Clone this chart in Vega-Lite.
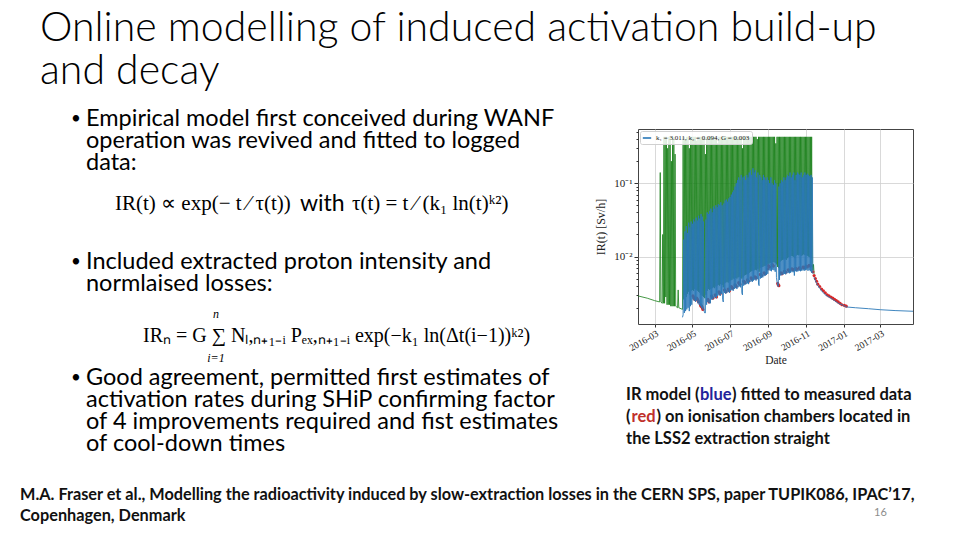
{
"$schema": "https://vega.github.io/schema/vega-lite/v6.json",
"background": "white",
"padding": {"left": 20, "top": 8, "right": 0, "bottom": 0},
"title": {"text": ["Online modelling of induced activation build-up", "and decay"], "anchor": "start", "dx": 20, "font": "Lato", "fontSize": 41, "fontWeight": 300, "lineHeight": 43, "color": "#000000", "offset": 14},
"spacing": 25,
"resolve": {"scale": {"color": "independent"}, "legend": {"color": "independent"}},
"config": {"view": {"stroke": null}},
"datasets": {
"left": [
{"row": 0, "k": "b", "t": ["Empirical model first conceived during WANF", "operation was revived and fitted to logged", "data:"]},
{"row": 15, "k": "f1a", "t": "IR(t) ∝ exp(− t ⁄ τ(t))"},
{"row": 15, "k": "f1w", "t": "with"},
{"row": 15, "k": "f1b", "t": "τ(t) = t ⁄ (k₁ ln(t)ᵏ²)"},
{"row": 26, "k": "b", "t": ["Included extracted proton intensity and", "normlaised losses:"]},
{"row": 39, "k": "f2", "t": "IRₙ = G ∑ Nₗ,ₙ₊₁₋ᵢ Pₑₓ,ₙ₊₁₋ᵢ exp(−k₁ ln(Δt(i−1))ᵏ²)"},
{"row": 35, "k": "f2n", "t": "n"},
{"row": 43, "k": "f2i", "t": "i=1"},
{"row": 47, "k": "b", "t": ["Good agreement, permitted first estimates of", "activation rates during SHiP confirming factor", "of 4 improvements required and fist estimates", "of cool-down times"]}
],
"cap": [
{"row": 0, "a": "IR model (", "c": "blue", "z": ") fitted to measured data"},
{"row": 1, "a": "(", "c": "red", "z": ") on ionisation chambers located in"},
{"row": 2, "a": "the LSS2 extraction straight"}
],
"foot": [
{"row": 0, "t": "M.A. Fraser et al., Modelling the radioactivity induced by slow-extraction losses in the CERN SPS, paper TUPIK086, IPAC’17,"},
{"row": 1, "t": "Copenhagen, Denmark", "pg": "16"}
],
"chart": [
{"d":"2016-02-03","g":0.0029,"b":0.00148},
{"d":"2016-02-18","g":0.0027},
{"d":"2016-03-01","g":0.0025,"b":0.00148},
{"d":"2016-03-09","g":0.0024},
{"d":"2016-03-10","g":0.14},
{"d":"2016-03-11","g":0.0024},
{"d":"2016-03-13","g":0.0023},
{"d":"2016-03-14","g":0.02},
{"d":"2016-03-15","g":0.0023},
{"d":"2016-03-16","g":0.43},
{"d":"2016-03-17","g":0.0023},
{"d":"2016-03-18","g":0.43},
{"d":"2016-03-19","g":0.0028},
{"d":"2016-03-20","g":0.43},
{"d":"2016-03-21","g":0.0022},
{"d":"2016-03-22","g":0.3},
{"d":"2016-03-23","g":0.0022},
{"d":"2016-03-24","g":0.43},
{"d":"2016-03-25","g":0.0022},
{"d":"2016-03-26","g":0.43},
{"d":"2016-03-27","g":0.0021},
{"d":"2016-03-28","g":0.2},
{"d":"2016-03-29","g":0.0021},
{"d":"2016-03-30","g":0.43},
{"d":"2016-03-31","g":0.0021},
{"d":"2016-04-01","g":0.43},
{"d":"2016-04-02","g":0.0021},
{"d":"2016-04-03","g":0.25},
{"d":"2016-04-04","g":0.0021},
{"d":"2016-04-07","g":0.002},
{"d":"2016-04-08","g":0.0035},
{"d":"2016-04-09","g":0.002},
{"d":"2016-04-15","g":0.0019,"b":0.00148},
{"d":"2016-04-16","g":0.43,"b":0.0016},
{"d":"2016-04-17","g":0.0026,"b":0.017},
{"d":"2016-04-18","g":0.43,"b":0.0017},
{"d":"2016-04-19","g":0.003,"b":0.022},
{"d":"2016-04-20","g":0.4,"b":0.0018},
{"d":"2016-04-21","g":0.0028,"b":0.026},
{"d":"2016-04-22","g":0.43,"b":0.0019},
{"d":"2016-04-23","g":0.0031,"b":0.021},
{"d":"2016-04-24","g":0.43,"b":0.002},
{"d":"2016-04-25","g":0.0033,"b":0.029},
{"d":"2016-04-26","g":0.3,"b":0.0018},
{"d":"2016-04-27","g":0.003,"b":0.025},
{"d":"2016-04-28","g":0.43,"b":0.0021},
{"d":"2016-04-29","g":0.0034,"b":0.03},
{"d":"2016-04-30","g":0.43,"b":0.0022},
{"d":"2016-05-01","g":0.0035,"b":0.028},
{"d":"2016-05-02","g":0.43,"b":0.0026,"r":0.0029},
{"d":"2016-05-03","g":0.0034,"b":0.032,"r":0.0028},
{"d":"2016-05-04","g":0.43,"b":0.0025,"r":0.0027},
{"d":"2016-05-05","g":0.0036,"b":0.03,"r":0.0026},
{"d":"2016-05-06","g":0.43,"b":0.0024},
{"d":"2016-05-07","g":0.0035,"b":0.034},
{"d":"2016-05-08","g":0.38,"b":0.0025,"r":0.0027},
{"d":"2016-05-09","g":0.0034,"b":0.031,"r":0.0026},
{"d":"2016-05-10","g":0.43,"b":0.0023,"r":0.0025},
{"d":"2016-05-11","g":0.0033,"b":0.036,"r":0.0024},
{"d":"2016-05-12","g":0.43,"b":0.0022},
{"d":"2016-05-13","g":0.0032,"b":0.033},
{"d":"2016-05-14","g":0.43,"b":0.0021,"r":0.0022},
{"d":"2016-05-15","g":0.003,"b":0.038,"r":0.0021},
{"d":"2016-05-16","g":0.43,"b":0.002,"r":0.0021},
{"d":"2016-05-17","g":0.0029,"b":0.035,"r":0.002},
{"d":"2016-05-18","g":0.43,"b":0.0019,"r":0.0019},
{"d":"2016-05-19","g":0.0028,"b":0.03},
{"d":"2016-05-20","g":0.43,"b":0.0018},
{"d":"2016-05-21","g":0.0027,"b":0.0017},
{"d":"2016-05-22","g":0.25,"b":0.0017},
{"d":"2016-05-23","g":0.003,"b":0.032},
{"d":"2016-05-24","g":0.43,"b":0.0022},
{"d":"2016-05-25","g":0.0034,"b":0.04},
{"d":"2016-05-26","g":0.43,"b":0.0024,"r":0.0026},
{"d":"2016-05-27","g":0.0036,"b":0.038,"r":0.0025},
{"d":"2016-05-28","g":0.43,"b":0.0023,"r":0.0024},
{"d":"2016-05-29","g":0.0035,"b":0.042},
{"d":"2016-05-30","g":0.43,"b":0.0023},
{"d":"2016-05-31","g":0.0036,"b":0.045},
{"d":"2016-06-01","g":0.43,"b":0.0026,"r":0.0029},
{"d":"2016-06-02","g":0.0037,"b":0.04,"r":0.0028},
{"d":"2016-06-03","g":0.43,"b":0.0026,"r":0.0027},
{"d":"2016-06-04","g":0.0038,"b":0.048},
{"d":"2016-06-05","g":0.43,"b":0.0027},
{"d":"2016-06-06","g":0.0037,"b":0.045},
{"d":"2016-06-07","g":0.43,"b":0.0028,"r":0.003},
{"d":"2016-06-08","g":0.0039,"b":0.05,"r":0.0029},
{"d":"2016-06-09","g":0.43,"b":0.0027,"r":0.0028},
{"d":"2016-06-10","g":0.004,"b":0.047},
{"d":"2016-06-11","g":0.35,"b":0.0029},
{"d":"2016-06-12","g":0.0041,"b":0.052},
{"d":"2016-06-13","g":0.43,"b":0.003,"r":0.0033},
{"d":"2016-06-14","g":0.004,"b":0.05,"r":0.0032},
{"d":"2016-06-15","g":0.43,"b":0.0029,"r":0.0031},
{"d":"2016-06-16","g":0.0042,"b":0.055},
{"d":"2016-06-17","g":0.43,"b":0.0031},
{"d":"2016-06-18","g":0.0041,"b":0.05},
{"d":"2016-06-19","g":0.43,"b":0.0026},
{"d":"2016-06-20","g":0.0038,"b":0.0024},
{"d":"2016-06-21","g":0.43,"b":0.053},
{"d":"2016-06-22","g":0.0043,"b":0.0032,"r":0.0035},
{"d":"2016-06-23","g":0.43,"b":0.058,"r":0.0034},
{"d":"2016-06-24","g":0.0044,"b":0.0031,"r":0.0033},
{"d":"2016-06-25","g":0.43,"b":0.06},
{"d":"2016-06-26","g":0.0045,"b":0.0032},
{"d":"2016-06-27","g":0.43,"b":0.056},
{"d":"2016-06-28","g":0.0044,"b":0.0033,"r":0.0036},
{"d":"2016-06-29","g":0.43,"b":0.062,"r":0.0035},
{"d":"2016-06-30","g":0.0046,"b":0.0032,"r":0.0034},
{"d":"2016-07-01","g":0.43,"b":0.065},
{"d":"2016-07-02","g":0.0047,"b":0.0034},
{"d":"2016-07-03","g":0.43,"b":0.07,"r":0.0039},
{"d":"2016-07-04","g":0.0048,"b":0.0035,"r":0.0038},
{"d":"2016-07-05","g":0.43,"b":0.075,"r":0.0037},
{"d":"2016-07-06","g":0.005,"b":0.0034},
{"d":"2016-07-07","g":0.43,"b":0.08},
{"d":"2016-07-08","g":0.0049,"b":0.0036},
{"d":"2016-07-09","g":0.43,"b":0.09,"r":0.0041},
{"d":"2016-07-10","g":0.0051,"b":0.0037,"r":0.004},
{"d":"2016-07-11","g":0.43,"b":0.1,"r":0.0039},
{"d":"2016-07-12","g":0.005,"b":0.0036},
{"d":"2016-07-13","g":0.43,"b":0.11},
{"d":"2016-07-14","g":0.0052,"b":0.0038},
{"d":"2016-07-15","g":0.43,"b":0.12,"r":0.0044},
{"d":"2016-07-16","g":0.0053,"b":0.0039,"r":0.0043},
{"d":"2016-07-17","g":0.43,"b":0.11,"r":0.0042},
{"d":"2016-07-18","g":0.0051,"b":0.0038},
{"d":"2016-07-19","g":0.43,"b":0.13},
{"d":"2016-07-20","g":0.005,"b":0.0032},
{"d":"2016-07-21","g":0.3,"b":0.003},
{"d":"2016-07-22","g":0.0052,"b":0.12},
{"d":"2016-07-23","g":0.43,"b":0.004,"r":0.0046},
{"d":"2016-07-24","g":0.0055,"b":0.125,"r":0.0045},
{"d":"2016-07-25","g":0.43,"b":0.0041,"r":0.0044},
{"d":"2016-07-26","g":0.0056,"b":0.11},
{"d":"2016-07-27","g":0.43,"b":0.0042},
{"d":"2016-07-28","g":0.0057,"b":0.13},
{"d":"2016-07-29","g":0.43,"b":0.0043,"r":0.0048},
{"d":"2016-07-30","g":0.0058,"b":0.12,"r":0.0047},
{"d":"2016-07-31","g":0.43,"b":0.0042,"r":0.0046},
{"d":"2016-08-01","g":0.006,"b":0.14},
{"d":"2016-08-02","g":0.43,"b":0.0045},
{"d":"2016-08-03","g":0.0062,"b":0.15},
{"d":"2016-08-04","g":0.43,"b":0.0046,"r":0.0051},
{"d":"2016-08-05","g":0.0063,"b":0.13,"r":0.005},
{"d":"2016-08-06","g":0.43,"b":0.0045,"r":0.0049},
{"d":"2016-08-07","g":0.0064,"b":0.16},
{"d":"2016-08-08","g":0.43,"b":0.0047},
{"d":"2016-08-09","g":0.0065,"b":0.14},
{"d":"2016-08-10","g":0.43,"b":0.0048,"r":0.0053},
{"d":"2016-08-11","g":0.0066,"b":0.15,"r":0.0052},
{"d":"2016-08-12","g":0.43,"b":0.0047,"r":0.0051},
{"d":"2016-08-13","g":0.0065,"b":0.12},
{"d":"2016-08-14","g":0.4,"b":0.0049},
{"d":"2016-08-15","g":0.0068,"b":0.14},
{"d":"2016-08-16","g":0.43,"b":0.0042},
{"d":"2016-08-17","g":0.0062,"b":0.004},
{"d":"2016-08-18","g":0.43,"b":0.13},
{"d":"2016-08-19","g":0.007,"b":0.005,"r":0.0057},
{"d":"2016-08-20","g":0.43,"b":0.12,"r":0.0056},
{"d":"2016-08-21","g":0.0071,"b":0.0051,"r":0.0055},
{"d":"2016-08-22","g":0.43,"b":0.11},
{"d":"2016-08-23","g":0.0072,"b":0.0052},
{"d":"2016-08-24","g":0.43,"b":0.13},
{"d":"2016-08-25","g":0.0074,"b":0.0054,"r":0.006},
{"d":"2016-08-26","g":0.43,"b":0.12,"r":0.0059},
{"d":"2016-08-27","g":0.0075,"b":0.0055,"r":0.0058},
{"d":"2016-08-28","g":0.43,"b":0.11},
{"d":"2016-08-29","g":0.0076,"b":0.0056},
{"d":"2016-08-30","g":0.43,"b":0.12},
{"d":"2016-08-31","g":0.0078,"b":0.0058,"r":0.0068},
{"d":"2016-09-01","g":0.43,"b":0.11,"r":0.0075},
{"d":"2016-09-02","g":0.008,"b":0.0065,"r":0.0073},
{"d":"2016-09-03","g":0.43,"b":0.1,"r":0.0072},
{"d":"2016-09-04","g":0.0082,"b":0.0064},
{"d":"2016-09-05","g":0.43,"b":0.12},
{"d":"2016-09-06","g":0.0081,"b":0.0063},
{"d":"2016-09-07","g":0.43,"b":0.1,"r":0.0078},
{"d":"2016-09-08","g":0.0083,"b":0.0066,"r":0.0076},
{"d":"2016-09-09","g":0.43,"b":0.095,"r":0.0074},
{"d":"2016-09-10","g":0.0084,"b":0.0065},
{"d":"2016-09-11","g":0.43,"b":0.11},
{"d":"2016-09-12","g":0.0082,"b":0.0062},
{"d":"2016-09-13","g":0.35,"b":0.1},
{"d":"2016-09-14","g":0.0078,"b":0.0052},
{"d":"2016-09-15","g":0.43,"b":0.0045},
{"d":"2016-09-16","g":0.0072,"b":0.0041,"r":0.0043},
{"d":"2016-09-17","g":0.43,"b":0.0039,"r":0.0041},
{"d":"2016-09-18","g":0.007,"b":0.09,"r":0.004},
{"d":"2016-09-19","g":0.43,"b":0.0048},
{"d":"2016-09-20","g":0.0085,"b":0.1},
{"d":"2016-09-21","g":0.43,"b":0.0055,"r":0.006},
{"d":"2016-09-22","g":0.0088,"b":0.11,"r":0.0059},
{"d":"2016-09-23","g":0.43,"b":0.0056,"r":0.0058},
{"d":"2016-09-24","g":0.009,"b":0.105},
{"d":"2016-09-25","g":0.43,"b":0.0057},
{"d":"2016-09-26","g":0.0091,"b":0.12},
{"d":"2016-09-27","g":0.43,"b":0.0058,"r":0.0063},
{"d":"2016-09-28","g":0.0092,"b":0.11,"r":0.0062},
{"d":"2016-09-29","g":0.43,"b":0.0057,"r":0.0061},
{"d":"2016-09-30","g":0.009,"b":0.12},
{"d":"2016-10-01","g":0.43,"b":0.0059},
{"d":"2016-10-02","g":0.0095,"b":0.13},
{"d":"2016-10-03","g":0.43,"b":0.006,"r":0.0066},
{"d":"2016-10-04","g":0.0098,"b":0.125,"r":0.0065},
{"d":"2016-10-05","g":0.43,"b":0.0059,"r":0.0064},
{"d":"2016-10-06","g":0.01,"b":0.14},
{"d":"2016-10-07","g":0.43,"b":0.006},
{"d":"2016-10-08","g":0.0102,"b":0.12},
{"d":"2016-10-09","g":0.43,"b":0.0062,"r":0.0068},
{"d":"2016-10-10","g":0.0101,"b":0.13,"r":0.0067},
{"d":"2016-10-11","g":0.43,"b":0.0061,"r":0.0066},
{"d":"2016-10-12","g":0.0099,"b":0.14},
{"d":"2016-10-13","g":0.43,"b":0.0055},
{"d":"2016-10-14","g":0.0095,"b":0.11},
{"d":"2016-10-15","g":0.43,"b":0.0063,"r":0.0069},
{"d":"2016-10-16","g":0.0103,"b":0.13,"r":0.0068},
{"d":"2016-10-17","g":0.43,"b":0.0062,"r":0.0067},
{"d":"2016-10-18","g":0.0105,"b":0.14},
{"d":"2016-10-19","g":0.43,"b":0.0063},
{"d":"2016-10-20","g":0.0104,"b":0.135},
{"d":"2016-10-21","g":0.43,"b":0.0064,"r":0.007},
{"d":"2016-10-22","g":0.0106,"b":0.13,"r":0.0069},
{"d":"2016-10-23","g":0.43,"b":0.0063,"r":0.0068},
{"d":"2016-10-24","g":0.0102,"b":0.14},
{"d":"2016-10-25","g":0.43,"b":0.0064},
{"d":"2016-10-26","g":0.0104,"b":0.12},
{"d":"2016-10-27","g":0.43,"b":0.0065,"r":0.0072},
{"d":"2016-10-28","g":0.0107,"b":0.13,"r":0.0071},
{"d":"2016-10-29","g":0.43,"b":0.0064,"r":0.007},
{"d":"2016-10-30","g":0.0105,"b":0.14},
{"d":"2016-10-31","g":0.43,"b":0.0065},
{"d":"2016-11-01","g":0.0104,"b":0.13,"r":0.0074},
{"d":"2016-11-02","g":0.43,"b":0.0066,"r":0.0073},
{"d":"2016-11-03","g":0.0102,"b":0.135,"r":0.0072},
{"d":"2016-11-04","g":0.43,"b":0.0064},
{"d":"2016-11-05","g":0.01,"b":0.13},
{"d":"2016-11-06","g":0.43,"b":0.0065,"r":0.0076},
{"d":"2016-11-07","g":0.0098,"b":0.125,"r":0.0075},
{"d":"2016-11-08","g":0.43,"b":0.0063,"r":0.0074},
{"d":"2016-11-09","g":0.0095,"b":0.13},
{"d":"2016-11-10","g":0.43,"b":0.006},
{"d":"2016-11-11","g":0.008,"b":0.12},
{"d":"2016-11-12","g":0.0065,"b":0.0058,"r":0.0062},
{"d":"2016-11-13","g":0.0078},
{"d":"2016-11-14","g":0.0058,"b":0.0052,"r":0.0055},
{"d":"2016-11-16","b":0.0047,"r":0.005},
{"d":"2016-11-18","b":0.0043,"r":0.0046},
{"d":"2016-11-20","b":0.004,"r":0.0042},
{"d":"2016-11-23","b":0.0037,"r":0.0039},
{"d":"2016-11-26","b":0.0034,"r":0.0036},
{"d":"2016-11-29","b":0.0032,"r":0.0034},
{"d":"2016-12-02","b":0.003,"r":0.0032},
{"d":"2016-12-05","b":0.0029,"r":0.003},
{"d":"2016-12-08","b":0.0028,"r":0.0029},
{"d":"2016-12-11","b":0.0027,"r":0.0028},
{"d":"2016-12-14","b":0.0026,"r":0.0027},
{"d":"2016-12-17","b":0.0025,"r":0.0026},
{"d":"2016-12-20","b":0.0024,"r":0.0025},
{"d":"2016-12-23","b":0.0023,"r":0.0024},
{"d":"2016-12-26","b":0.00225,"r":0.0023},
{"d":"2016-12-29","b":0.0022,"r":0.0022},
{"d":"2017-01-02","b":0.00212,"r":0.00215},
{"d":"2017-01-05","b":0.00205,"r":0.0021},
{"d":"2017-01-20","b":0.002},
{"d":"2017-02-10","b":0.00194},
{"d":"2017-03-01","b":0.00188},
{"d":"2017-03-25","b":0.00183},
{"d":"2017-04-23","b":0.00179}
]
},
"vconcat": [
{
"hconcat": [
{
"width": 560,
"height": 330,
"data": {"name": "left"},
"encoding": {
"y": {"field": "row", "type": "quantitative", "scale": {"domain": [0, 60], "reverse": true, "nice": false, "zero": false}, "axis": null},
"x": {"value": 0}
},
"layer": [
{"transform": [{"filter": "datum.k == 'b'"}], "mark": {"type": "text", "align": "left", "baseline": "alphabetic", "font": "Lato", "fontSize": 23.5, "lineHeight": 22, "color": "#000000", "dx": 66, "dy": -3}, "encoding": {"text": {"field": "t"}}},
{"transform": [{"filter": "datum.k == 'b'"}], "mark": {"type": "text", "text": "•", "align": "left", "baseline": "alphabetic", "font": "Lato", "fontSize": 17, "color": "#000000", "dx": 51, "dy": -5}},
{"transform": [{"filter": "datum.k == 'f1a'"}], "mark": {"type": "text", "align": "left", "baseline": "middle", "font": "Liberation Serif", "fontSize": 21, "color": "#000000", "dx": 95, "dy": -8}, "encoding": {"text": {"field": "t"}}},
{"transform": [{"filter": "datum.k == 'f1w'"}], "mark": {"type": "text", "align": "left", "baseline": "middle", "font": "Lato", "fontSize": 23, "color": "#000000", "dx": 280, "dy": -8}, "encoding": {"text": {"field": "t"}}},
{"transform": [{"filter": "datum.k == 'f1b'"}], "mark": {"type": "text", "align": "left", "baseline": "middle", "font": "Liberation Serif", "fontSize": 21, "color": "#000000", "dx": 332, "dy": -8}, "encoding": {"text": {"field": "t"}}},
{"transform": [{"filter": "datum.k == 'f2'"}], "mark": {"type": "text", "align": "left", "baseline": "middle", "font": "Liberation Serif", "fontSize": 20, "color": "#000000", "dx": 123, "dy": -8}, "encoding": {"text": {"field": "t"}}},
{"transform": [{"filter": "datum.k == 'f2n' || datum.k == 'f2i'"}], "mark": {"type": "text", "align": "center", "baseline": "middle", "font": "Liberation Serif", "fontSize": 12, "fontStyle": "italic", "color": "#000000", "dx": 196, "dy": -8}, "encoding": {"text": {"field": "t"}}}
]
},
{
"vconcat": [
{
"width": 275,
"height": 195,
"view": {"stroke": "#444444", "strokeWidth": 1},
"data": {"name": "chart"},
"encoding": {
"x": {"field": "d", "type": "temporal", "title": "Date",
"scale": {"type": "utc", "domain": [{"year": 2016, "month": 2, "date": 3, "utc": true}, {"year": 2017, "month": 4, "date": 23, "utc": true}]},
"axis": {"values": [{"year": 2016, "month": 3, "date": 1, "utc": true}, {"year": 2016, "month": 5, "date": 1, "utc": true}, {"year": 2016, "month": 7, "date": 1, "utc": true}, {"year": 2016, "month": 9, "date": 1, "utc": true}, {"year": 2016, "month": 11, "date": 1, "utc": true}, {"year": 2017, "month": 1, "date": 1, "utc": true}, {"year": 2017, "month": 3, "date": 1, "utc": true}],
"labelExpr": "utcFormat(datum.value, '%Y-%m')", "labelAngle": -30, "labelAlign": "right", "labelBaseline": "top", "labelFont": "Liberation Serif", "labelFontSize": 9.5, "labelColor": "#222222", "labelPadding": 1, "labelOverlap": false, "labelFlush": false, "tickSize": 3, "tickColor": "#333333", "domain": false, "grid": true, "gridColor": "#cfcfcf", "gridWidth": 0.8, "titleFont": "Liberation Serif", "titleFontSize": 11.5, "titleFontWeight": "normal", "titleColor": "#222222", "titlePadding": 2}}
},
"layer": [
{"mark": {"type": "line", "color": "#177f17", "strokeWidth": 0.8, "clip": true},
"encoding": {"y": {"field": "g", "type": "quantitative", "title": "IR(t) [Sv/h]",
"scale": {"type": "log", "domain": [0.0012, 0.55], "nice": false},
"axis": {"values": [0.002, 0.003, 0.004, 0.005, 0.006, 0.007, 0.008, 0.009, 0.01, 0.02, 0.03, 0.04, 0.05, 0.06, 0.07, 0.08, 0.09, 0.1, 0.2, 0.3, 0.4, 0.5],
"labelExpr": "datum.value == 0.1 ? '10⁻¹' : (datum.value == 0.01 ? '10⁻²' : '')",
"labelFont": "Liberation Serif", "labelFontSize": 11, "labelColor": "#222222", "labelOverlap": false, "labelPadding": 2,
"tickSize": {"condition": {"test": "datum.value == 0.1 || datum.value == 0.01", "value": 4}, "value": 2},
"tickColor": "#333333", "domain": false, "grid": true, "gridColor": "#cfcfcf", "gridWidth": 0.8,
"gridOpacity": {"condition": {"test": "datum.value == 0.1 || datum.value == 0.01", "value": 1}, "value": 0},
"titleFont": "Liberation Serif", "titleFontSize": 12, "titleFontWeight": "normal", "titleColor": "#222222", "titlePadding": 6}}}},
{"mark": {"type": "circle", "color": "#d62728", "size": 10, "opacity": 1, "clip": true},
"encoding": {"y": {"field": "r", "type": "quantitative", "title": "IR(t) [Sv/h]"}}},
{"mark": {"type": "line", "strokeWidth": 0.9, "clip": true},
"encoding": {"y": {"field": "b", "type": "quantitative", "title": "IR(t) [Sv/h]"},
"color": {"datum": "k₁ = 3.011, k₂ = 0.094, G = 0.003", "type": "nominal", "scale": {"range": ["#2a78b8"]},
"legend": {"orient": "top-left", "offset": 2, "padding": 2, "fillColor": "rgba(255,255,255,0.85)", "strokeColor": "#d0d0d0", "cornerRadius": 2, "labelFont": "Liberation Serif", "labelFontSize": 7, "labelColor": "#222222", "symbolType": "stroke", "symbolStrokeWidth": 1.6, "symbolSize": 70, "title": null, "rowPadding": 0}}}}
]
},
{
"width": 300,
"height": 66,
"data": {"name": "cap"},
"encoding": {
"y": {"field": "row", "type": "ordinal", "axis": null, "scale": {"paddingInner": 0, "paddingOuter": 0}},
"x": {"value": 0}
},
"layer": [
{"mark": {"type": "text", "align": "left", "baseline": "middle", "font": "Lato", "fontSize": 16.5, "fontWeight": "bold", "color": "#111111", "dx": -12}, "encoding": {"text": {"field": "a"}}},
{"transform": [{"filter": "datum.row == 0"}], "mark": {"type": "text", "align": "left", "baseline": "middle", "font": "Lato", "fontSize": 16.5, "fontWeight": "bold", "color": "#23239a", "dx": 62}, "encoding": {"text": {"field": "c"}}},
{"transform": [{"filter": "datum.row == 0"}], "mark": {"type": "text", "align": "left", "baseline": "middle", "font": "Lato", "fontSize": 16.5, "fontWeight": "bold", "color": "#111111", "dx": 94}, "encoding": {"text": {"field": "z"}}},
{"transform": [{"filter": "datum.row == 1"}], "mark": {"type": "text", "align": "left", "baseline": "middle", "font": "Lato", "fontSize": 16.5, "fontWeight": "bold", "color": "#c0302a", "dx": -6.4}, "encoding": {"text": {"field": "c"}}},
{"transform": [{"filter": "datum.row == 1"}], "mark": {"type": "text", "align": "left", "baseline": "middle", "font": "Lato", "fontSize": 16.5, "fontWeight": "bold", "color": "#111111", "dx": 18.4}, "encoding": {"text": {"field": "z"}}}
]
}
],
"spacing": 60,
"bounds": "flush",
"resolve": {"scale": {"color": "independent"}, "legend": {"color": "independent"}}
}
],
"spacing": 58,
"bounds": "flush",
"resolve": {"scale": {"color": "independent"}, "legend": {"color": "independent"}}
},
{
"width": 893,
"height": 42,
"data": {"name": "foot"},
"encoding": {
"y": {"field": "row", "type": "ordinal", "axis": null, "scale": {"paddingInner": 0, "paddingOuter": 0}},
"x": {"value": 0}
},
"layer": [
{"mark": {"type": "text", "align": "left", "baseline": "middle", "font": "Lato", "fontSize": 16.3, "fontWeight": "bold", "color": "#111111"}, "encoding": {"text": {"field": "t"}}},
{"transform": [{"filter": "datum.pg"}], "mark": {"type": "text", "align": "left", "baseline": "middle", "font": "Lato", "fontSize": 11, "color": "#8c8c8c", "dx": 854, "dy": -3}, "encoding": {"text": {"field": "pg"}}}
]
}
]
}
